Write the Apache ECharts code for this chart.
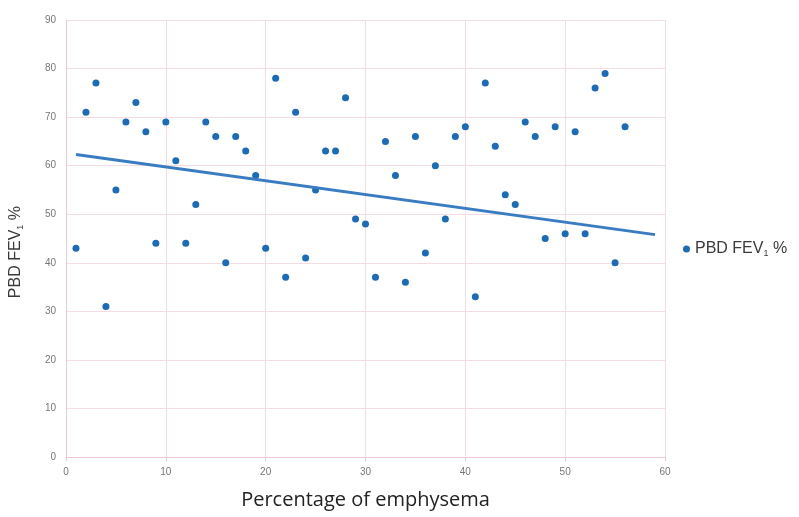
<!DOCTYPE html>
<html>
<head>
<meta charset="utf-8">
<script src="https://cdn.jsdelivr.net/npm/echarts@6/dist/echarts.min.js"></script>
<style>html,body{margin:0;padding:0;background:#fff;}#c{width:799px;height:517px;}</style>
</head>
<body>
<div id="c"></div>
<script>
const emphysema = [1,2,3,4,5,6,7,8,9,10,11,12,13,14,15,16,17,18,19,20,21,22,23,24,25,26,27,28,29,30,31,32,33,34,35,36,37,38,39,40,41,42,43,44,45,46,47,48,49,50,51,52,53,54,55,56];
const fev1 = [43,71,77,31,55,69,73,67,44,69,61,44,52,69,66,40,66,63,58,43,78,37,71,41,55,63,63,74,49,48,37,65,58,36,66,42,60,49,66,68,33,77,64,54,52,69,66,45,68,46,67,46,76,79,40,68];
const trendX = [1, 59];
const trendY = [62.3, 45.8];
const xTicks = [0,10,20,30,40,50,60];
const yTicks = [0,10,20,30,40,50,60,70,80,90];

const chart = echarts.init(document.getElementById('c'));
const pts = emphysema.map((x,i)=>[x, fev1[i]]);
const trend = trendX.map((x,i)=>[x, trendY[i]]);
chart.setOption({
  animation:false,
  grid:{left:66, right:134, top:20, bottom:60},
  legend:{
    data:['PBD FEV1 %'], left:678, top:236, itemWidth:7, itemHeight:7, itemGap:6,
    formatter:()=> 'PBD FEV{s|1} %',
    textStyle:{fontSize:16, color:'#3a3a3a', fontFamily:'Liberation Sans',
      rich:{s:{fontSize:9, color:'#3a3a3a', padding:[10,0,0,0]}}}
  },
  xAxis:{
    type:'value', min:0, max:60, interval:10,
    axisLine:{show:true, lineStyle:{color:'#f0c8d4'}},
    axisTick:{show:true, length:4, lineStyle:{color:'#f0c8d4'}},
    axisLabel:{color:'#777', fontSize:10, margin:10, formatter:v=>xTicks.includes(v)?String(v):''},
    splitLine:{show:true, lineStyle:{color:'#f5dbe3'}},
    name:'Percentage of emphysema', nameLocation:'middle', nameGap:33,
    nameTextStyle:{fontSize:20, color:'#222', fontFamily:'Open Sans'}
  },
  yAxis:{
    type:'value', min:0, max:90, interval:10,
    axisLine:{show:true, lineStyle:{color:'#f0c8d4'}},
    axisTick:{show:false},
    axisLabel:{color:'#777', fontSize:10, margin:10, formatter:v=>yTicks.includes(v)?String(v):''},
    splitLine:{show:true, lineStyle:{color:'#f5dbe3'}}
  },
  graphic:[{
    type:'text', left:8, top:206, rotation:Math.PI/2,
    style:{text:'PBD FEV{s|1} %', fill:'#3a3a3a', fontSize:16, fontFamily:'Liberation Sans',
      rich:{s:{fontSize:9, fill:'#3a3a3a', padding:[10,0,0,0]}}}
  }],
  series:[
    {name:'PBD FEV1 %', type:'scatter', data:pts, symbolSize:7, itemStyle:{color:'#1b6cb8', opacity:1}},
    {name:'trend', type:'line', data:trend, symbol:'none', lineStyle:{color:'#3a7cc2', width:3}, silent:true}
  ]
});
</script>
</body>
</html>
